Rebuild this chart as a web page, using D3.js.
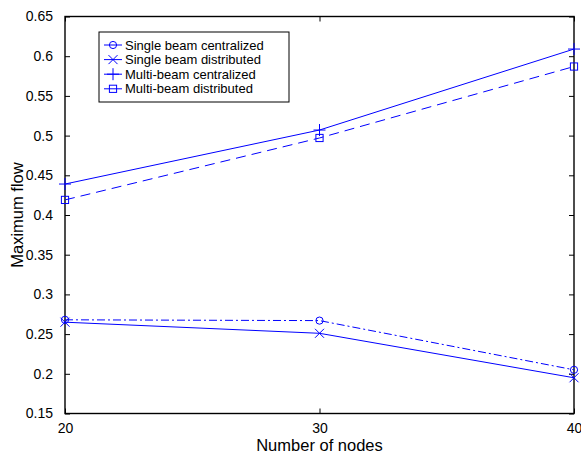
<!DOCTYPE html>
<html lang="en">
<head>
  <meta charset="UTF-8" />
  <title>Maximum flow vs number of nodes</title>
  <script src="https://cdnjs.cloudflare.com/ajax/libs/d3/7.8.2/d3.min.js"></script>
  <style>
    body {
      margin: 0;
      padding: 0;
      background: #fff;
    }
    svg {
      display: block;
      font-family: "Liberation Sans", Arial, sans-serif;
    }
  </style>
</head>
<body>

<svg id="chart" width="581" height="453"></svg>

<script>
// -----------------------------------------------------
// DATA
// -----------------------------------------------------
const nodeCounts = [20, 30, 40];
const xTicks = [20, 30, 40];
const yTicks = [0.15, 0.2, 0.25, 0.3, 0.35, 0.4, 0.45, 0.5, 0.55, 0.6, 0.65];

const singleCentralized = [0.268, 0.267, 0.205];
const singleDistributed = [0.265, 0.251, 0.195];
const multiCentralized  = [0.439, 0.507, 0.609];
const multiDistributed  = [0.419, 0.497, 0.587];

const seriesNames = [
  "Single beam centralized",
  "Single beam distributed",
  "Multi-beam centralized",
  "Multi-beam distributed"
];

// -----------------------------------------------------
// SETUP
// -----------------------------------------------------
const svg = d3.select("#chart");
const margin = { left: 65, right: 7, top: 16.5, bottom: 39.5 };
const width = 581, height = 453;

const x = d3.scaleLinear()
  .domain([20, 40])
  .range([margin.left, width - margin.right]);

const y = d3.scaleLinear()
  .domain([0.15, 0.65])
  .range([height - margin.bottom, margin.top]);

const blue = "#0000ff";

const series = [
  { name: seriesNames[0], values: singleCentralized, dash: "8,3,2,3", marker: "circle" },
  { name: seriesNames[1], values: singleDistributed, dash: null, marker: "x" },
  { name: seriesNames[2], values: multiCentralized, dash: null, marker: "plus" },
  { name: seriesNames[3], values: multiDistributed, dash: "10,6", marker: "square" }
];

// -----------------------------------------------------
// AXES (box with inward ticks)
// -----------------------------------------------------
const tickLen = 5;
const fmt = d => String(+d.toFixed(2));

svg.append("g")
  .attr("transform", `translate(0,${y.range()[0]})`)
  .call(d3.axisBottom(x).tickValues(xTicks).tickSizeInner(-tickLen).tickSizeOuter(0).tickPadding(10).tickFormat(d3.format("d")))
  .call(g => g.select(".domain").remove());

svg.append("g")
  .attr("transform", `translate(0,${y.range()[1]})`)
  .call(d3.axisTop(x).tickValues(xTicks).tickSizeInner(-tickLen).tickSizeOuter(0).tickFormat(""))
  .call(g => g.select(".domain").remove());

svg.append("g")
  .attr("transform", `translate(${x.range()[0]},0)`)
  .call(d3.axisLeft(y).tickValues(yTicks).tickSizeInner(-tickLen).tickSizeOuter(0).tickPadding(12).tickFormat(fmt))
  .call(g => g.select(".domain").remove());

svg.append("g")
  .attr("transform", `translate(${x.range()[1]},0)`)
  .call(d3.axisRight(y).tickValues(yTicks).tickSizeInner(-tickLen).tickSizeOuter(0).tickFormat(""))
  .call(g => g.select(".domain").remove());

svg.selectAll(".tick line").attr("stroke", "#000").attr("stroke-width", 1);
svg.selectAll(".tick text")
  .attr("fill", "#000")
  .style("font-size", "14px")
  .style("font-family", "\"Liberation Sans\", Arial, sans-serif");

svg.append("rect")
  .attr("x", x.range()[0])
  .attr("y", y.range()[1])
  .attr("width", x.range()[1] - x.range()[0])
  .attr("height", y.range()[0] - y.range()[1])
  .attr("fill", "none")
  .attr("stroke", "#000")
  .attr("stroke-width", 1.4);

// axis titles
svg.append("text")
  .attr("x", (x.range()[0] + x.range()[1]) / 2)
  .attr("y", 451)
  .attr("text-anchor", "middle")
  .style("font-size", "16.5px")
  .text("Number of nodes");

svg.append("text")
  .attr("transform", `translate(23,${(y.range()[0] + y.range()[1]) / 2}) rotate(-90)`)
  .attr("text-anchor", "middle")
  .style("font-size", "16.5px")
  .text("Maximum flow");

// -----------------------------------------------------
// MARKERS
// -----------------------------------------------------
function drawMarker(g, type, cx, cy) {
  if (type === "circle") {
    g.append("circle").attr("cx", cx).attr("cy", cy).attr("r", 3.6)
      .attr("fill", "none").attr("stroke", blue);
  } else if (type === "square") {
    g.append("rect").attr("x", cx - 3.6).attr("y", cy - 3.6)
      .attr("width", 7.2).attr("height", 7.2)
      .attr("fill", "none").attr("stroke", blue);
  } else if (type === "plus") {
    g.append("path").attr("d", `M${cx - 6},${cy}H${cx + 6}M${cx},${cy - 6}V${cy + 6}`)
      .attr("stroke", blue);
  } else if (type === "x") {
    const s = 4.5;
    g.append("path").attr("d", `M${cx - s},${cy - s}L${cx + s},${cy + s}M${cx - s},${cy + s}L${cx + s},${cy - s}`)
      .attr("stroke", blue);
  }
}

// -----------------------------------------------------
// LINES
// -----------------------------------------------------
const line = d3.line()
  .x((d, i) => x(nodeCounts[i]))
  .y(d => y(d));

const plot = svg.append("g");

series.forEach(s => {
  plot.append("path")
    .datum(s.values)
    .attr("d", line)
    .attr("fill", "none")
    .attr("stroke", blue)
    .attr("stroke-width", 1)
    .attr("stroke-dasharray", s.dash);

  const mg = plot.append("g").attr("stroke-width", 1);
  s.values.forEach((v, i) => drawMarker(mg, s.marker, x(nodeCounts[i]), y(v)));
});

// -----------------------------------------------------
// LEGEND
// -----------------------------------------------------
const legend = svg.append("g");
legend.append("rect")
  .attr("x", 99).attr("y", 32)
  .attr("width", 190).attr("height", 70)
  .attr("fill", "#fff")
  .attr("stroke", "#000")
  .attr("stroke-width", 1);

series.forEach((s, i) => {
  const ly = 45 + i * 14.6;
  legend.append("line")
    .attr("x1", 104).attr("x2", 122)
    .attr("y1", ly).attr("y2", ly)
    .attr("stroke", blue)
    .attr("stroke-width", 1);
  drawMarker(legend, s.marker, 113, ly);
  legend.append("text")
    .attr("x", 125)
    .attr("y", ly + 4.5)
    .style("font-size", "13px")
    .text(s.name);
});
</script>
</body>
</html>
